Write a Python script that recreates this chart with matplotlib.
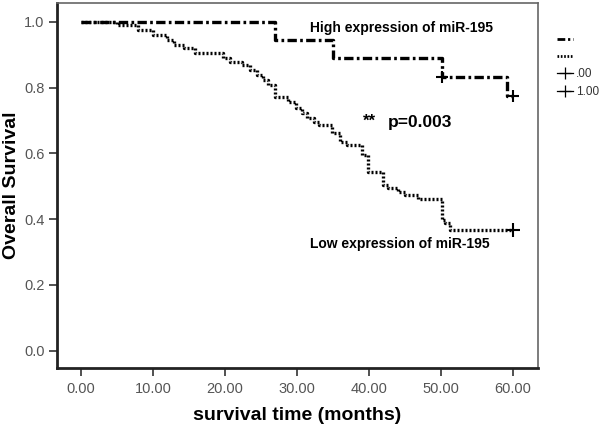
import matplotlib
matplotlib.use("Agg")
import matplotlib.pyplot as plt
from matplotlib.lines import Line2D

plt.rcParams['font.family'] = ['Liberation Sans', 'DejaVu Sans']

# High expression group: (time, survival after event)
high_times = [0, 27.0, 35.0, 50.1, 59.1, 60.0]
high_surv = [1.0, 0.944, 0.889, 0.833, 0.774, 0.774]
high_censor_t = [50.1, 60.0]
high_censor_s = [0.833, 0.774]

# Low expression group
low_times = [0, 5.0, 7.9, 10.0, 11.9, 12.9, 14.3, 15.9, 19.7, 20.7, 22.4, 23.5,
             24.4, 25.3, 26.0, 27.0, 28.75, 29.9, 30.7, 31.4, 32.4, 33.0, 34.8,
             36.0, 36.9, 39.0, 39.9, 42.0, 42.6, 44.0, 45.0, 46.8, 50.1, 50.6,
             51.2, 60.0]
low_surv = [1.0, 0.990, 0.975, 0.960, 0.944, 0.929, 0.920, 0.906, 0.889, 0.878,
            0.868, 0.853, 0.838, 0.823, 0.808, 0.772, 0.757, 0.737, 0.722, 0.707,
            0.696, 0.686, 0.661, 0.635, 0.625, 0.595, 0.544, 0.504, 0.494, 0.483,
            0.473, 0.460, 0.397, 0.389, 0.367, 0.367]
low_censor_t = [60.0]
low_censor_s = [0.367]

x_ticks = [0, 10, 20, 30, 40, 50, 60]
x_ticklabels = ["0.00", "10.00", "20.00", "30.00", "40.00", "50.00", "60.00"]
y_ticks = [0.0, 0.2, 0.4, 0.6, 0.8, 1.0]
y_ticklabels = ["0.0", "0.2", "0.4", "0.6", "0.8", "1.0"]

DASHDOT = (0, (2.8, 1.0, 0.8, 1.0))
DOTTED = (0, (0.6, 0.6))

fig = plt.figure(figsize=(6, 4.29), dpi=100)
ax = fig.add_axes([0.095, 0.142, 0.801, 0.851])

ax.step(high_times, high_surv, where='post', color='black', lw=2.4,
        linestyle=DASHDOT)
ax.step(low_times, low_surv, where='post', color='black', lw=2.4,
        linestyle=DOTTED)
ax.plot(high_censor_t, high_censor_s, '+', color='black', ms=9, mew=1.5)
ax.plot(low_censor_t, low_censor_s, '+', color='black', ms=10, mew=1.5)

ax.set_xlim(-3.33, 63.4)
ax.set_ylim(-0.053, 1.057)
ax.set_xticks(x_ticks)
ax.set_xticklabels(x_ticklabels)
ax.set_yticks(y_ticks)
ax.set_yticklabels(y_ticklabels)
ax.tick_params(axis='both', direction='out', length=6, width=1.2,
               colors='#333333', labelcolor='#555555', labelsize=10.5)
ax.tick_params(axis='x', pad=4)
ax.tick_params(axis='y', pad=3)

for s in ['left', 'bottom']:
    ax.spines[s].set_linewidth(2)
    ax.spines[s].set_color('#222222')
for s in ['top', 'right']:
    ax.spines[s].set_linewidth(1.2)
    ax.spines[s].set_color('#666666')

ax.set_xlabel("survival time (months)", fontsize=14, fontweight='bold', labelpad=8)
ax.set_ylabel("Overall Survival", fontsize=14, fontweight='bold')
ax.yaxis.set_label_coords(-0.076, 0.5)

ax.text(31.8, 0.981, "High expression of miR-195", fontsize=10, fontweight='bold',
        va='center', ha='left')
ax.text(39.2, 0.697, "**", fontsize=12, fontweight='bold', va='center', ha='left')
ax.text(42.6, 0.695, "p=0.003", fontsize=12.5, fontweight='bold', va='center', ha='left')
ax.text(31.8, 0.323, "Low expression of miR-195", fontsize=10, fontweight='bold',
        va='center', ha='left')

handles = [
    Line2D([], [], color='black', lw=2, linestyle=DASHDOT),
    Line2D([], [], color='black', lw=2, linestyle=DOTTED),
    Line2D([], [], color='black', marker='+', linestyle='-', lw=0.9, ms=9, mew=0.9),
    Line2D([], [], color='black', marker='+', linestyle='-', lw=0.9, ms=9, mew=0.9),
]
labels = ["", "", ".00", "1.00"]
leg = fig.legend(handles, labels, loc='upper left', bbox_to_anchor=(0.918, 0.935),
                 frameon=False, fontsize=8.5, handlelength=1.4, handletextpad=0.25,
                 labelspacing=0.45, borderpad=0)
for t in leg.get_texts():
    t.set_color('#333333')

fig.savefig("out.png", dpi=100)
